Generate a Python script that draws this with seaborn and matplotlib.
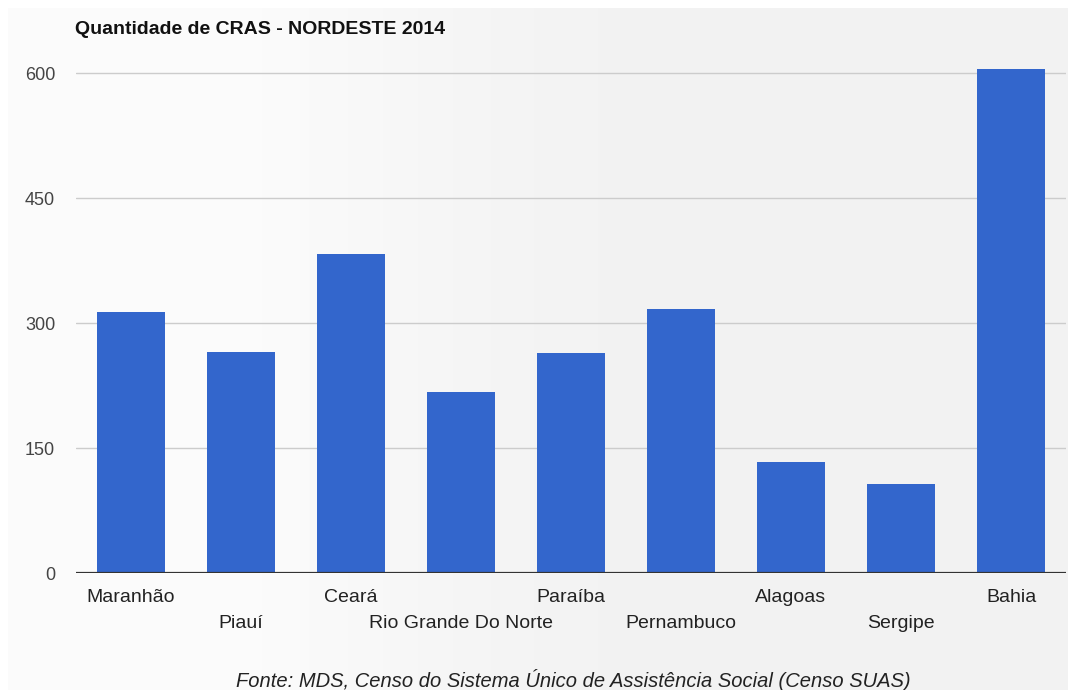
import numpy as np
import pandas as pd
import matplotlib
matplotlib.use("Agg")
import matplotlib.pyplot as plt
import seaborn as sns

estados = ["Maranhão", "Piauí", "Ceará", "Rio Grande Do Norte", "Paraíba",
           "Pernambuco", "Alagoas", "Sergipe", "Bahia"]
cras = [313, 266, 383, 217, 264, 317, 133, 107, 605]
yticks = [0, 150, 300, 450, 600]
titulo = "Quantidade de CRAS - NORDESTE 2014"
fonte = "Fonte: MDS, Censo do Sistema Único de Assistência Social (Censo SUAS)"

sns.set_theme(style="white")
plt.rcParams['font.family'] = ['Liberation Sans', 'DejaVu Sans']

fig = plt.figure(figsize=(10.68, 6.9), dpi=100)
fig.patch.set_facecolor("white")

# background gradient (light left -> light gray right), with white margin top/left
bg = fig.add_axes([8/1068, 0, 1 - 8/1068, 1 - 8/690], zorder=-10)
xx = np.linspace(0, 1, 512)[None, :]
yy = np.linspace(0, 1, 256)[:, None]
t = np.clip((xx - 0.15) / 0.45, 0, 1)
t = t * t * (3 - 2 * t)
grad = 0.988 - 0.036 * t + 0.0 * yy
bg.imshow(np.dstack([grad, grad, grad]), aspect="auto", extent=[0, 1, 0, 1],
          origin="upper")
bg.set_axis_off()

ax_h = 573.3 - 48.3
ax = fig.add_axes([76/1068, (690-573.3)/690, (1066-76)/1068, ax_h/690])
ax.set_facecolor("none")

df = pd.DataFrame({"estado": estados, "cras": cras})
sns.barplot(data=df, x="estado", y="cras", color="#3366CC", saturation=1,
            width=0.61, linewidth=0, ax=ax, zorder=3)

ax.set_xlim(-0.5, len(estados) - 0.5)
ax.set_ylim(0, 630)
ax.set_yticks(yticks)
ax.set_yticklabels([str(v) for v in yticks], color="#444444", fontsize=13)
ax.yaxis.grid(True, color="#cccccc", linewidth=1)
ax.set_axisbelow(True)
ax.axhline(0, color="#333333", linewidth=1.6, zorder=4)
for s in ax.spines.values():
    s.set_visible(False)
ax.tick_params(axis="both", length=0)
ax.tick_params(axis="y", pad=15)
ax.set_xlabel("")
ax.set_ylabel("")

# staggered category labels (two rows)
ax.set_xticks(range(len(estados)))
ax.set_xticklabels([])
row_y = [-(598 - 573.3) / ax_h, -(623 - 573.3) / ax_h]
for i, e in enumerate(estados):
    ax.text(i, row_y[i % 2], e, transform=ax.get_xaxis_transform(),
            ha="center", va="center", fontsize=14, color="#222222")

fig.text(75/1068, 1 - 30/690, titulo, fontsize=14, fontweight="bold",
         color="#111111", ha="left", va="center")
fig.text(573/1068, 1 - 680/690, fonte, fontsize=14.5, style="italic",
         color="#222222", ha="center", va="center")

fig.savefig("out.png", dpi=100)
